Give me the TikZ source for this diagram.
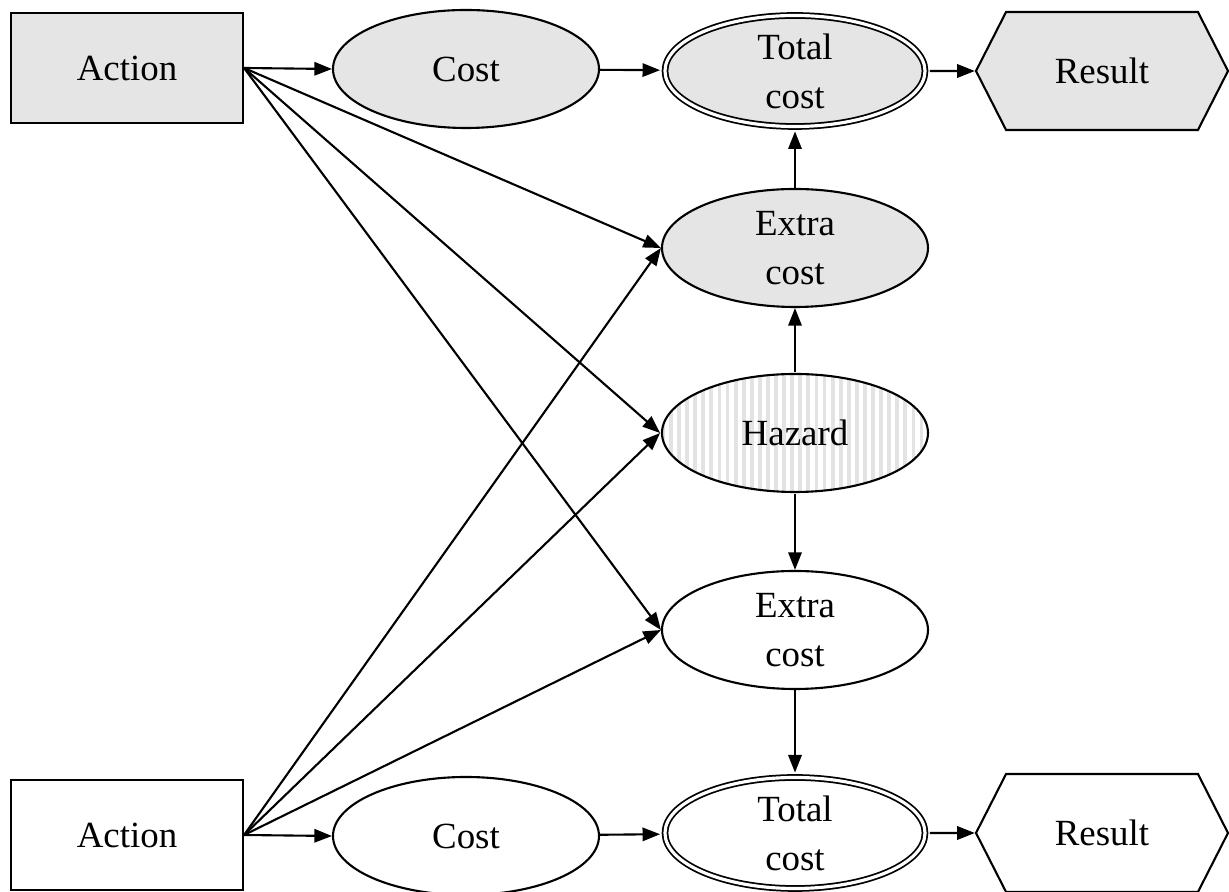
\documentclass[tikz,border=0pt]{standalone}
\usepackage{fontspec}
\setmainfont{Liberation Serif}
\usetikzlibrary{positioning,arrows.meta,shapes.geometric,shapes.symbols,patterns.meta}

\begin{document}
\begin{tikzpicture}[
  font=\fontsize{10.5}{14}\selectfont,
  line width=0.6pt,
  arr/.style={-{Triangle[length=5pt,width=3.8pt]}},
  actbox/.style={draw, rectangle, minimum width=2.32cm, minimum height=1.10cm},
  midell/.style={draw, ellipse, align=center, inner sep=0pt, minimum width=2.66cm, minimum height=1.18cm},
  totell/.style={midell, double, double distance=0.9pt, line width=0.5pt, minimum width=2.60cm, minimum height=1.11cm, outer sep=1.4pt},
  resbox/.style={draw, signal, signal to=west and east, signal from=nowhere, signal pointer angle=126, minimum width=2.52cm, minimum height=1.18cm},
  shaded/.style={fill=gray!20}
]
\useasboundingbox (0,0) rectangle (12.29,8.92);

% top row
\node[actbox, shaded] (act1) at (1.27,8.24) {Action};
\node[midell, shaded] (cost1) at (4.66,8.23) {Cost};
\node[totell, shaded] (tot1) at (7.95,8.21) {Total\\cost};
\node[resbox, shaded] (res1) at (11.02,8.21) {Result};

% middle column
\node[midell, shaded] (ext1) at (7.95,6.44) {Extra\\cost};
\node[midell, pattern={Lines[angle=90,distance=2.3pt,line width=1.1pt]}, pattern color=gray!22] (haz) at (7.95,4.59) {Hazard};
\node[midell] (ext2) at (7.95,2.62) {Extra\\cost};

% bottom row
\node[actbox] (act2) at (1.27,0.57) {Action};
\node[midell] (cost2) at (4.66,0.56) {Cost};
\node[totell] (tot2) at (7.95,0.59) {Total\\cost};
\node[resbox] (res2) at (11.02,0.59) {Result};

% rows
\draw[arr] (act1.east) -- (cost1.west);
\draw[arr] (cost1) -- (tot1);
\draw[arr] (tot1) -- (res1);
\draw[arr] (act2.east) -- (cost2.west);
\draw[arr] (cost2) -- (tot2);
\draw[arr] (tot2) -- (res2);

% fan out from the actions
\draw[arr] (act1.east) -- (ext1.west);
\draw[arr] (act1.east) -- (haz.west);
\draw[arr] (act1.east) -- (ext2.west);
\draw[arr] (act2.east) -- (ext1.west);
\draw[arr] (act2.east) -- (haz.west);
\draw[arr] (act2.east) -- (ext2.west);

% column
\draw[arr] (ext1) -- (tot1);
\draw[arr] (haz) -- (ext1);
\draw[arr] (haz) -- (ext2);
\draw[arr] (ext2) -- (tot2);
\end{tikzpicture}
\end{document}
